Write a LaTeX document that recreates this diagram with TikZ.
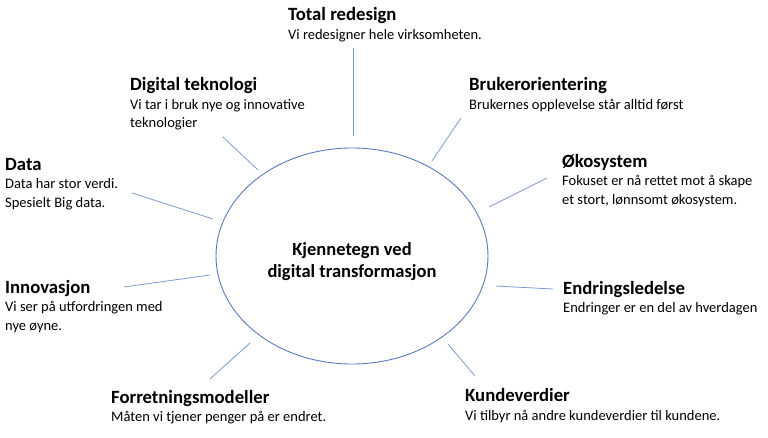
\documentclass[tikz,border=0pt]{standalone}
\usepackage{fontspec}
\setmainfont{Carlito}
\usepackage{xcolor}
\usepackage{tikz}
\usetikzlibrary{positioning,shapes.geometric}
\definecolor{rimblue}{HTML}{5A7BB8}
\definecolor{spokeblue}{HTML}{7E9ACD}
\tikzset{
  hub/.style   ={draw=rimblue, ellipse, line width=0.9pt, minimum width=272pt, minimum height=216pt, inner sep=0pt},
  hubtxt/.style={align=center, font=\bfseries\fontsize{18.5}{22}\selectfont},
  ttl/.style   ={anchor=base west, inner sep=0pt, font=\bfseries\fontsize{18.7}{22}\selectfont},
  dsc/.style   ={anchor=base west, inner sep=0pt, align=left, font=\fontsize{14.5}{18.5}\selectfont},
  spoke/.style ={draw=spokeblue, line width=0.8pt},
}
\begin{document}
\begin{tikzpicture}[x=1pt, y=-1pt]
  \useasboundingbox (0,0) rectangle (768,437);

  \node[hub] (hub) at (352,256) {};
  \node[hubtxt] (hubt) at (352,262) {Kjennetegn ved\\digital transformasjon};

  % one-line descriptions sit 18.6pt under the title, two-line ones are anchored on their last line
  \node[ttl] (t-total) at (288,20.7) {Total redesign};
  \node[dsc] (d-total) at ([yshift=-18.6pt]t-total.base west) {Vi redesigner hele virksomheten.};

  \node[ttl] (t-digi) at (130,90.5) {Digital teknologi};
  \node[dsc] (d-digi) at ([yshift=-37.1pt]t-digi.base west) {Vi tar i bruk nye og innovative\\teknologier};

  \node[ttl] (t-data) at (5,170) {Data};
  \node[dsc] (d-data) at ([yshift=-37.1pt]t-data.base west) {Data har stor verdi.\\Spesielt Big data.};

  \node[ttl] (t-bruk) at (469,90.5) {Brukerorientering};
  \node[dsc] (d-bruk) at ([yshift=-18.6pt]t-bruk.base west) {Brukernes opplevelse står alltid først};

  \node[ttl] (t-oko) at (562,167) {Økosystem};
  \node[dsc] (d-oko) at ([yshift=-37.1pt]t-oko.base west) {Fokuset er nå rettet mot å skape\\et stort, lønnsomt økosystem.};

  \node[ttl] (t-innov) at (5,293) {Innovasjon};
  \node[dsc] (d-innov) at ([yshift=-37.1pt]t-innov.base west) {Vi ser på utfordringen med\\nye øyne.};

  \node[ttl] (t-endr) at (563,294) {Endringsledelse};
  \node[dsc] (d-endr) at ([yshift=-18.6pt]t-endr.base west) {Endringer er en del av hverdagen};

  \node[ttl] (t-forr) at (111,403) {Forretningsmodeller};
  \node[dsc] (d-forr) at ([yshift=-18.6pt]t-forr.base west) {Måten vi tjener penger på er endret.};

  \node[ttl] (t-kunde) at (465,401.5) {Kundeverdier};
  \node[dsc] (d-kunde) at ([yshift=-18.6pt]t-kunde.base west) {Vi tilbyr nå andre kundeverdier til kundene.};

  \coordinate (s1a) at (353,136); \coordinate (s1b) at (353,48);
  \coordinate (s2a) at (258,170); \coordinate (s2b) at (223,137);
  \coordinate (s3a) at (213,219); \coordinate (s3b) at (132,193);
  \coordinate (s4a) at (432,161); \coordinate (s4b) at (461,118);
  \coordinate (s5a) at (489,207); \coordinate (s5b) at (547,178);
  \coordinate (s6a) at (496,286); \coordinate (s6b) at (553,289);
  \coordinate (s7a) at (448,344); \coordinate (s7b) at (475,376);
  \coordinate (s8a) at (250,343); \coordinate (s8b) at (210,379);
  \coordinate (s9a) at (210,275); \coordinate (s9b) at (124,287);
  \foreach \i in {1,...,9}
    \draw[spoke] (s\i a) -- (s\i b);
\end{tikzpicture}
\end{document}
